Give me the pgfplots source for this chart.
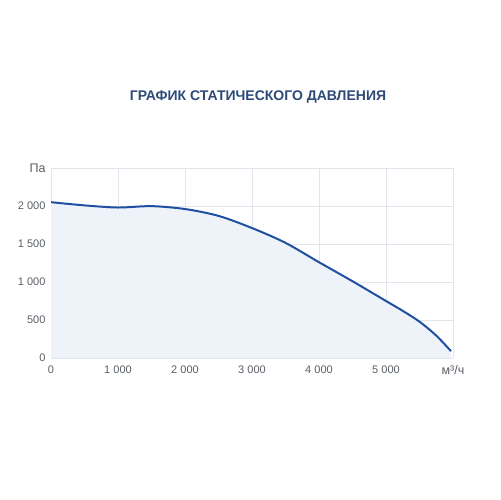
\documentclass[border=0pt]{standalone}
\usepackage{pgfplots}
\pgfplotsset{compat=1.18}
\usepackage{fontspec}
\setmainfont{Liberation Sans}

\definecolor{titleblue}{HTML}{2D4A78}
\definecolor{curveblue}{HTML}{1F4FA0}
\definecolor{fillblue}{HTML}{EEF3FA}
\definecolor{gridgray}{HTML}{E2E6EC}
\definecolor{labelgray}{HTML}{5A5F66}

\newcommand{\unitfont}{\fontsize{12.5bp}{14bp}\selectfont}

\pgfplotstableread{
q      p
0      2050
500    2008
1000   1980
1500   1998
2000   1960
2500   1870
3000   1710
3500   1515
4000   1260
4500   1010
5000   750
5250   620
5500   478
5750   295
5970   90
}\curve

\begin{document}
\begin{tikzpicture}[x=1bp,y=1bp]
  \fill[white] (0,0) rectangle (500,500);
  \node[font=\bfseries\fontsize{14bp}{16bp}\selectfont, text=titleblue] at (258,403) {ГРАФИК СТАТИЧЕСКОГО ДАВЛЕНИЯ};
  \begin{axis}[
    at={(51bp,142bp)}, anchor=south west,
    scale only axis,
    width=402bp, height=190bp,
    xmin=0, xmax=6000,
    ymin=0, ymax=2500,
    xtick={0,1000,...,6000},
    ytick={0,500,...,2500},
    xticklabels={0,1 000,2 000,3 000,4 000,5 000,{\unitfont м³/ч}},
    yticklabels={0,500,1 000,1 500,2 000,{\unitfont Па}},
    grid=major,
    grid style={gridgray, line width=0.6pt},
    axis line style={draw=none},
    tick style={draw=none},
    tick label style={font=\fontsize{11bp}{13bp}\selectfont, text=labelgray},
    xticklabel style={yshift=-4bp},
    yticklabel style={xshift=-2bp},
    axis background/.style={fill=white},
  ]
    \addplot[smooth, fill=fillblue, draw=none] table[x=q, y=p] {\curve} \closedcycle;
    \addplot[smooth, curveblue, line width=2pt] table[x=q, y=p] {\curve};
  \end{axis}
\end{tikzpicture}
\end{document}
